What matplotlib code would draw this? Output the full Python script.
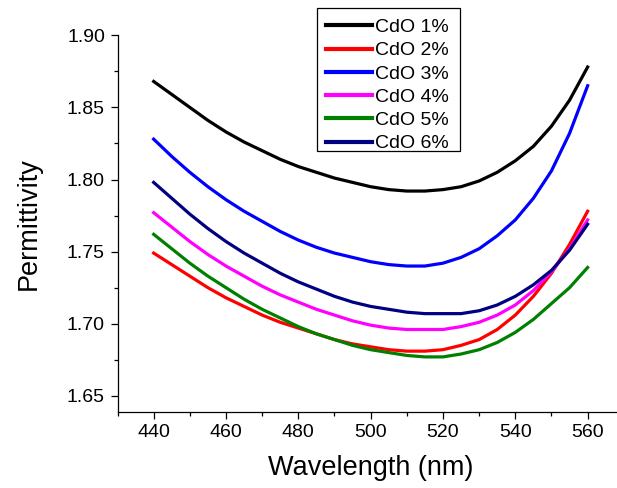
import matplotlib
matplotlib.use("Agg")
import matplotlib.pyplot as plt
from matplotlib.ticker import MultipleLocator
from matplotlib.patches import Rectangle

plt.rcParams['font.family'] = ['Liberation Sans', 'DejaVu Sans']

wavelength = [440, 445, 450, 455, 460, 465, 470, 475, 480, 485, 490, 495, 500,
              505, 510, 515, 520, 525, 530, 535, 540, 545, 550, 555, 560]

cdo1 = [1.868, 1.859, 1.850, 1.841, 1.833, 1.826, 1.820, 1.814, 1.809, 1.805, 1.801, 1.798, 1.795,
        1.793, 1.792, 1.792, 1.793, 1.795, 1.799, 1.805, 1.813, 1.823, 1.837, 1.855, 1.878]
cdo2 = [1.749, 1.741, 1.733, 1.725, 1.718, 1.712, 1.706, 1.701, 1.697, 1.693, 1.689, 1.686, 1.684,
        1.682, 1.681, 1.681, 1.682, 1.685, 1.689, 1.696, 1.706, 1.719, 1.735, 1.755, 1.778]
cdo3 = [1.828, 1.816, 1.805, 1.795, 1.786, 1.778, 1.771, 1.764, 1.758, 1.753, 1.749, 1.746, 1.743,
        1.741, 1.740, 1.740, 1.742, 1.746, 1.752, 1.761, 1.772, 1.787, 1.806, 1.832, 1.865]
cdo4 = [1.777, 1.767, 1.757, 1.748, 1.740, 1.733, 1.726, 1.720, 1.715, 1.710, 1.706, 1.702, 1.699,
        1.697, 1.696, 1.696, 1.696, 1.698, 1.701, 1.706, 1.713, 1.723, 1.736, 1.752, 1.772]
cdo5 = [1.762, 1.752, 1.742, 1.733, 1.725, 1.717, 1.710, 1.704, 1.698, 1.693, 1.689, 1.685, 1.682,
        1.680, 1.678, 1.677, 1.677, 1.679, 1.682, 1.687, 1.694, 1.703, 1.714, 1.725, 1.739]
cdo6 = [1.798, 1.787, 1.776, 1.766, 1.757, 1.749, 1.742, 1.735, 1.729, 1.724, 1.719, 1.715, 1.712,
        1.710, 1.708, 1.707, 1.707, 1.707, 1.709, 1.713, 1.719, 1.727, 1.737, 1.751, 1.769]

labels = ["CdO 1%", "CdO 2%", "CdO 3%", "CdO 4%", "CdO 5%", "CdO 6%"]
colors = ["#000000", "#ff0000", "#0000ff", "#ff00ff", "#008000", "#000080"]
series = [cdo1, cdo2, cdo3, cdo4, cdo5, cdo6]

W, H = 617, 488
fig = plt.figure(figsize=(W / 100, H / 100), dpi=100)
left, right, top, bottom = 117.5, 623.8, 35.3, 411.7
ax = fig.add_axes([left / W, 1 - bottom / H, (right - left) / W, (bottom - top) / H])

for y, lab, c in zip(series, labels, colors):
    ax.plot(wavelength, y, color=c, lw=2.3, label=lab)

ax.set_xlim(430, 570)
ax.set_ylim(1.639, 1.90)
ax.set_xticks([440, 460, 480, 500, 520, 540, 560])
ax.set_yticks([1.65, 1.70, 1.75, 1.80, 1.85, 1.90])
ax.yaxis.set_major_formatter(plt.FuncFormatter(lambda v, p: f"{v:.2f}"))
ax.xaxis.set_minor_locator(MultipleLocator(10))
ax.yaxis.set_minor_locator(MultipleLocator(0.025))
ax.tick_params(which='major', direction='out', length=5, width=0.9, labelsize=14, pad=4)
ax.tick_params(which='minor', direction='out', length=2.8, width=0.9)
for s in ['top', 'right']:
    ax.spines[s].set_visible(False)
for s in ['left', 'bottom']:
    ax.spines[s].set_linewidth(0.9)

ax.set_xlabel("Wavelength (nm)", fontsize=19.5, labelpad=10)
ax.set_ylabel("Permittivity", fontsize=19.5, labelpad=18)

leg = fig.legend(loc='upper left', bbox_to_anchor=(317 / W, 1 - 9.8 / H), borderaxespad=0,
                 fontsize=14, frameon=False, handlelength=2.4,
                 handletextpad=0.15, labelspacing=0.29, borderpad=0.45)
for line in leg.get_lines():
    line.set_linewidth(3.0)

# legend box
fig.patches.append(Rectangle((317 / W, 1 - 150.7 / H), (460 - 317) / W, (150.7 - 7.5) / H,
                             transform=fig.transFigure, fill=False, edgecolor='black',
                             linewidth=0.9, zorder=5))

fig.savefig("out.png", dpi=100)
